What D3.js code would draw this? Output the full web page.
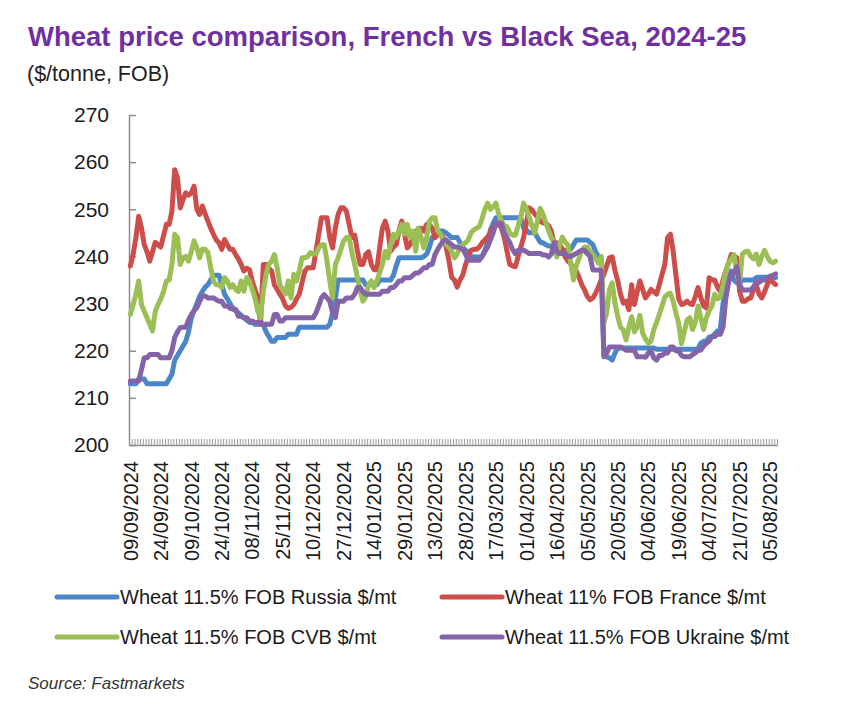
<!DOCTYPE html>
<html>
<head>
<meta charset="utf-8">
<script src="https://cdn.jsdelivr.net/npm/d3@7"></script>
<style>
  body { margin: 0; background: #fff; }
  text { font-family: "Liberation Sans", Arial, sans-serif; }
</style>
</head>
<body>
<script>
// tick labels, one every 11 trading days
var tickLabels = ["09/09/2024","24/09/2024","09/10/2024","24/10/2024","08/11/2024","25/11/2024",
  "10/12/2024","27/12/2024","14/01/2025","29/01/2025","13/02/2025","28/02/2025","17/03/2025",
  "01/04/2025","16/04/2025","05/05/2025","20/05/2025","04/06/2025","19/06/2025","04/07/2025",
  "21/07/2025","05/08/2025"];
var labelStep = 11;

var yTicks = [200, 210, 220, 230, 240, 250, 260, 270];

var russia = [
  213,213,213,214,214,214,213,213,213,213,213,
  213,213,213,214,215,218,219,220,221,222,224,
  227,228.5,230,231.5,232.6,233.5,234,235,236,236,236,
  234,232,231,230,229,228.5,228,227.5,227,226.5,226,
  226,225.6,225.6,225.6,225.6,224,223,222,222,222.8,222.8,
  222.8,222.8,223.5,223.5,223.5,223.5,225,225,225,225,225,
  225,225,225,225,225,225,225.6,228,231,235,235,
  235,235,235,235,235,235,235,235,234,234,234,
  234,234,235,235,235,235,235,236,238,239.7,239.7,
  239.7,239.7,239.7,239.7,239.7,239.7,239.7,240,240.5,242,244,
  244.3,245,245.4,245.4,245,244.5,244,244,244,243,242,
  241.3,241,240,239.9,239.9,239.9,240,241.3,243,245.6,247,
  248.2,248.2,248.2,248.2,248.2,248.2,248.2,248.2,248.2,248.2,246,
  245.6,245,245,245,244,243,242.9,242.5,242.2,242.2,242.2,
  242,241.5,241.3,241.3,241.3,241.5,242.5,243.5,243.5,243.5,243.5,
  243.5,243,242.5,241,240,239.9,219,218.7,218.5,218,219.5,
  220.6,220.6,220.6,220.6,220.6,220.6,220.6,220.6,220.6,220.6,220.6,
  220.6,220.6,220.6,220.3,220.3,220.3,220.3,220.3,220.3,220.3,220.3,
  220.3,220.3,220.3,220.3,220.3,220.3,220.3,220.5,221.6,222,222,
  222.9,222.9,223.5,224.2,224.4,230,233,235,236.9,235,234.4,
  234.4,235,235,235,235,235,235.5,235.6,235.6,235.6,235.6,
  235.5,235.6,235.5
];

var france = [
  238,240.5,244,248.5,246,242.5,241,239,241,243,242.5,
  242,244.5,246.8,246.8,249.6,258.4,256.7,250.3,252,253.5,253,
  253.5,254.9,250,248.9,250.7,249,247.5,246,244.7,243.5,242.9,
  241.5,243.6,242.5,241.5,241.5,240.4,239.5,238.3,236.9,237.5,237.2,
  234.8,233,231.2,225.6,238.3,238.3,237.5,236.9,234,233,232,
  231,229.5,229,229.2,229.8,231,232,234.5,236.9,237.6,237.6,
  237.6,241,244.7,248.2,248.2,248.2,244,241.8,246,248.9,250.3,
  250.3,249.6,246.8,244,244.5,241.1,238.3,238.3,240.4,241,238.3,
  237.2,237.2,241.8,246,247.5,245.4,241.1,242,242.5,245.4,247.5,
  244.7,241.8,242.5,244,244.7,246,246,245.4,246.8,246.8,246,
  244,244.7,244.5,244,242,239.2,235.6,235,233.5,235,236,
  238.2,240,241.3,241.5,241.5,242,242.9,243.5,244.1,245,246.2,
  246.5,247.1,246,244,241.1,238.3,238,237.8,239.9,242,244,
  247.1,250.3,249.9,249,248.4,247.5,247.1,247.1,246.5,245.4,242.9,
  242.9,242.5,241.5,239.9,239,238.5,237.5,236.9,235.6,234,232.9,
  231.5,230.8,231.2,232.2,233.5,235,236.2,238,239.7,239.9,237,
  234.8,232,230.1,230.5,228.7,234,229.8,232.5,234.8,233,231.2,
  232,233,232.5,232,234,236.2,238.3,244,244.7,241.1,236,
  231,229.8,230,230.5,230,229.8,231.5,233.4,231.2,229.5,229.1,
  235.5,235,235,233.5,232.6,235,236.9,238.5,240.4,240,239.7,
  232.6,230.5,230.5,231,231.2,233,234,232,231.2,232.5,234,
  235.5,234.5,234
];

var cvb = [
  227.7,229.8,232,234.8,229.8,228.4,227,225.6,224.2,228.4,229.8,
  231,232.6,234.8,235,238.3,244.7,244,238.3,239.7,240,239,
  241,243.3,241.8,239.7,241.5,241.5,240.8,237.6,234.8,234,234,
  233.4,235.5,234.8,233.4,234,233,232.6,234.8,232.6,235.5,234.8,
  233,231.2,228.4,227,232.6,236.2,238.3,239,240.4,237.6,234,
  233,232,234.8,231.2,236.2,234.8,237,239.7,239.7,240,240.8,
  240.5,240.5,241.8,242.5,242.5,239,234.8,231.2,238.3,239.7,241.5,
  243.3,244,244,240.8,238.3,235.5,232.6,230.5,231.5,234,234.8,
  233.4,234.8,236.5,238.3,241.1,239.7,242.5,244.7,244,245.4,246.8,
  244.7,246.8,244,245.4,241.1,246,244,241.8,244,247.5,248.2,
  248.2,245.4,244.7,243.3,242.5,242,241.1,239.7,240.5,242,242.5,
  242.9,243.5,245,245.6,246,246.3,248,250,251.3,250,250.5,
  251.3,249,247.5,246.5,246.3,245,244.5,244.5,246.5,248.4,251.3,
  250,248.4,246.5,245,247.5,250.2,249,247.1,245.5,244,242.9,
  239.9,242.5,244.1,243,242.5,238.6,235,238,239.5,241.3,242,
  242,241,240.5,239.5,238.6,240,226,228,233,234.4,230,
  227.2,225,224.4,222.3,225,227.2,224,225,227.5,223.7,222.5,
  221.6,222,224.5,226,227.7,229.5,231.4,232,232.2,230.5,228,
  225.8,221.5,224,226.5,227,224.5,226,229.5,227,224.5,227,
  228.5,229.5,232,231,231.4,234,236.9,238.6,239.5,240.4,236,
  234.5,240.5,241,241.1,240,239.5,240.5,238.3,240,241.3,240,
  239,238.6,239
];

var ukraine = [
  213.6,213.6,213.6,213.6,216,218.5,218.5,219.2,219.2,219.2,219.2,
  218.5,218.5,218.5,218.5,220,222.8,224,224.9,225,225,226.5,
  227.7,228.5,229.1,230.5,231.6,231.6,231.2,231.2,231.2,230.8,230.5,
  230.5,229.5,229.5,229,228.8,228.8,227.3,227.3,227,227,226.3,
  226.3,226,226,226,225.6,225.6,225.6,225.6,227.7,227.7,226.3,
  226.3,227,227,227,227,227,227,227,227,227,227,
  227,228,229.5,231.2,231.9,231.2,230.5,228,227,230.5,230.5,
  230.5,231.2,231.2,231.2,232,233.4,233.4,232.5,232,232,232,
  232,232,232,232.6,232.6,232.6,233.4,233.4,234,234.8,234.8,
  235.5,235.5,235.5,236,236.5,236.5,237,237.6,237.6,238.3,238.3,
  240.4,241.5,242.5,243.3,243.5,243,242.5,242,242,241.8,241.5,
  240.5,239.2,239.2,239.2,239.2,239.2,240,241,242,243.5,245,
  247.1,247.1,247,245,244,242.9,241.5,240.6,241.3,241.3,241.3,
  241,240.6,240.6,240.6,240.6,240.6,240.3,240.3,239.9,240.5,242.9,
  241,240.6,240.6,240.6,240,240,240.3,240.6,241,241.3,241.3,
  240.6,240,237.1,237.1,237.1,237,218.7,219.5,220.8,220.8,220.8,
  220.8,220.8,220.5,220.1,220.1,220.1,220.1,218.7,218.7,218.7,218.6,
  219.5,220,218.5,218,219,219,219.5,219.5,220.8,220.8,220,
  220,219,218.7,218.7,218.7,219.2,219.5,220.1,220.1,221,221.6,
  222,223,223,223.5,223.5,225,231,234.4,236.5,236.5,237.8,
  234,232.9,232.9,232.9,232.9,233.5,234.5,234.5,235,235,235.5,
  235.8,236,236.3
];

var seriesNames = ["Wheat 11.5% FOB Russia $/mt", "Wheat 11% FOB France $/mt",
                   "Wheat 11.5% FOB CVB $/mt", "Wheat 11.5% FOB Ukraine $/mt"];
var colors = ["#4a86c8", "#cc4d49", "#9bbf55", "#8463a8"];

var series = [russia, france, cvb, ukraine];
var N = russia.length;

var W = 846, H = 703;
var plotL = 129, plotR = 777, plotT = 115, plotB = 445;

var svg = d3.select("body").append("svg")
  .attr("width", W)
  .attr("height", H);

// title
svg.append("text")
  .attr("x", 28).attr("y", 46)
  .style("font-size", "27.5px")
  .style("font-weight", "bold")
  .style("fill", "#7030a0")
  .text("Wheat price comparison, French vs Black Sea, 2024-25");

svg.append("text")
  .attr("x", 27).attr("y", 81)
  .style("font-size", "21.5px")
  .style("fill", "#222")
  .text("($/tonne, FOB)");

var x = d3.scaleBand().domain(d3.range(N)).range([plotL, plotR]);
var xEdge = d3.scaleLinear().domain([0, N]).range([plotL, plotR]);
var y = d3.scaleLinear().domain([200, 270]).range([plotB, plotT]);

function cx(i) { return x(i) + x.bandwidth() / 2; }

// y axis
var yAxis = d3.axisLeft(y).tickValues(yTicks).tickSizeInner(-7).tickSizeOuter(0).tickPadding(20);
var gy = svg.append("g")
  .attr("transform", "translate(" + plotL + ",0)")
  .call(yAxis);
gy.select(".domain").attr("stroke", "#8c8c8c").attr("stroke-width", 1.5);
gy.selectAll(".tick line").attr("stroke", "#8c8c8c").attr("stroke-width", 1.5);
gy.selectAll(".tick text")
  .style("font-size", "21px")
  .style("fill", "#1a1a1a")
  .style("font-family", "'Liberation Sans', Arial, sans-serif");

// x axis: one mark per trading day
var xAxis = d3.axisBottom(xEdge).tickValues(d3.range(N + 1)).tickSizeInner(-6).tickSizeOuter(0).tickFormat("");
var gx = svg.append("g")
  .attr("transform", "translate(0," + plotB + ")")
  .call(xAxis);
gx.select(".domain").attr("stroke", "#8c8c8c").attr("stroke-width", 1.5);
gx.selectAll(".tick line").attr("stroke", "#9a9a9a").attr("stroke-width", 1);

svg.append("g").selectAll("text")
  .data(tickLabels)
  .enter().append("text")
  .attr("transform", function(d, k) { return "translate(" + cx(k * labelStep) + ",461) rotate(-90)"; })
  .attr("dy", "0.36em")
  .attr("text-anchor", "end")
  .style("font-size", "20px")
  .style("fill", "#1a1a1a")
  .text(function(d) { return d; });

// lines
var line = d3.line()
  .x(function(d, i) { return cx(i); })
  .y(function(d) { return y(d); });

svg.append("g").selectAll("path")
  .data(series)
  .enter().append("path")
  .attr("d", line)
  .attr("fill", "none")
  .attr("stroke", function(d, i) { return colors[i]; })
  .attr("stroke-width", 5)
  .attr("stroke-linejoin", "round")
  .attr("stroke-linecap", "round");

// legend
var legPos = [[55, 597], [440, 597], [55, 637], [440, 637]];
var leg = svg.append("g").selectAll("g")
  .data(seriesNames)
  .enter().append("g")
  .attr("transform", function(d, i) { return "translate(" + legPos[i][0] + "," + legPos[i][1] + ")"; });

leg.append("line")
  .attr("x1", 2).attr("x2", 62)
  .attr("stroke", function(d, i) { return colors[i]; })
  .attr("stroke-width", 5)
  .attr("stroke-linecap", "round");

leg.append("text")
  .attr("x", 65).attr("dy", "0.36em")
  .style("font-size", "20px")
  .style("fill", "#1a1a1a")
  .text(function(d) { return d; });

svg.append("text")
  .attr("x", 28).attr("y", 689)
  .style("font-size", "17px")
  .style("font-style", "italic")
  .style("fill", "#333")
  .text("Source: Fastmarkets");
</script>
</body>
</html>
